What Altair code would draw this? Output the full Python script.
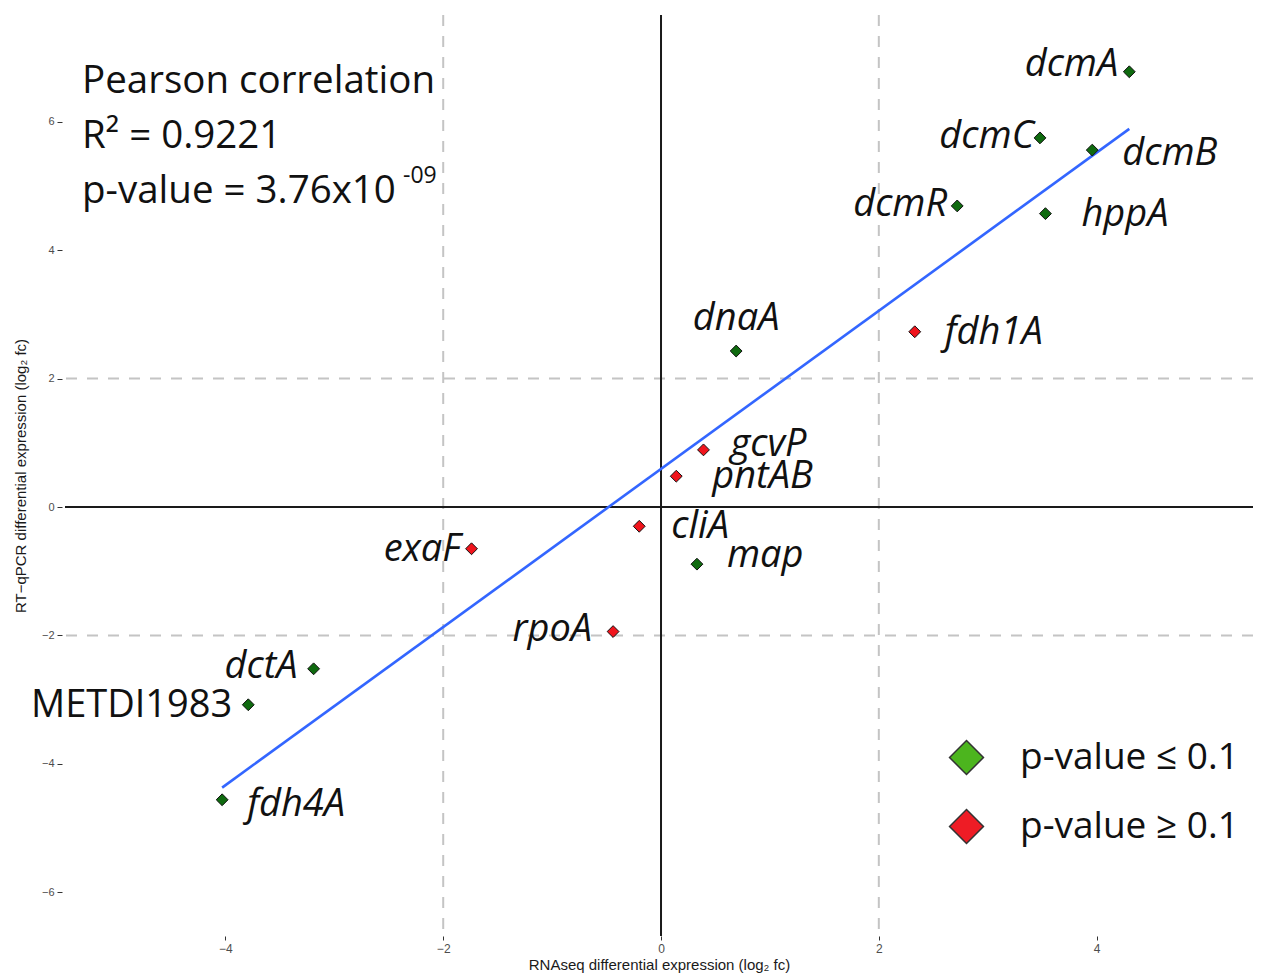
import altair as alt
import pandas as pd

# ---------------- data ----------------
GENES = ["dcmA", "dcmC", "dcmB", "dcmR", "hppA", "fdh1A", "dnaA", "gcvP",
         "pntAB", "cliA", "map", "exaF", "rpoA", "dctA", "METDI1983", "fdh4A"]
RNASEQ = [4.30, 3.48, 3.96, 2.72, 3.53, 2.33, 0.69, 0.39,
          0.14, -0.20, 0.33, -1.74, -0.44, -3.19, -3.79, -4.03]
QPCR = [6.78, 5.75, 5.56, 4.69, 4.57, 2.73, 2.43, 0.89,
        0.48, -0.30, -0.89, -0.65, -1.94, -2.52, -3.08, -4.56]
LEGEND_LABELS = ["p-value ≤ 0.1", "p-value ≥ 0.1"]
SIGNIF = [0, 0, 0, 0, 0, 1, 0, 1, 1, 1, 0, 1, 1, 0, 0, 0]  # index into LEGEND_LABELS
X_TICKS = [-4, -2, 0, 2, 4]
Y_TICKS = [-6, -4, -2, 0, 2, 4, 6]
GRID_VALUES = [-2, 2]
ZERO_VALUES = [0]
STATS_LINES = ["Pearson correlation", "R² = 0.9221", "p-value = 3.76x10"]
STATS_EXP = "-09"
X_TITLE = "RNAseq differential expression (log₂ fc)"
Y_TITLE = "RT−qPCR differential expression (log₂ fc)"

# ---------------- styling / placement ----------------
PT_COLORS = ["#0f6a0f", "#f0141c"]
LEGEND_FILL = ["#4cb51e", "#ee1c25"]
FONT = "Open Sans"
AXIS_FONT = "Liberation Sans"

# label placement relative to each point: (align, dx px, dy px, italic)
PLACE = {
    "dcmA": ("right", -11, 4, True),
    "dcmC": ("right", -6, 10, True),
    "dcmB": ("left", 30, 15, True),
    "dcmR": ("right", -10, 10, True),
    "hppA": ("left", 36, 12, True),
    "fdh1A": ("left", 30, 12, True),
    "dnaA": ("center", 0, -21, True),
    "gcvP": ("left", 27, 6, True),
    "pntAB": ("left", 36, 12, True),
    "cliA": ("left", 32, 12, True),
    "map": ("left", 30, 3, True),
    "exaF": ("right", -11, 12, True),
    "rpoA": ("right", -21, 9, True),
    "dctA": ("right", -16, 9, True),
    "METDI1983": ("right", -16, 12, False),
    "fdh4A": ("left", 25, 16, True),
}

df = pd.DataFrame({
    "gene": GENES,
    "rnaseq": RNASEQ,
    "qpcr": QPCR,
    "sig": [LEGEND_LABELS[i] for i in SIGNIF],
})

W, H = 1188, 921
xs = alt.Scale(domain=[-5.473, 5.436], nice=False, zero=False)
ys = alt.Scale(domain=[-6.682, 7.664], nice=False, zero=False)

xaxis = alt.Axis(values=X_TICKS, title=X_TITLE, grid=False, domain=False,
                 tickSize=4, tickColor="#333333", tickWidth=1,
                 labelFont=AXIS_FONT, labelFontSize=12, labelColor="#4d4d4d",
                 labelPadding=3, titleFont=AXIS_FONT, titleFontSize=15,
                 titleFontWeight="normal", titleColor="#1a1a1a", titlePadding=3,
                 format="d")
yaxis = alt.Axis(values=Y_TICKS, title=Y_TITLE, grid=False, domain=False,
                 tickSize=5, tickColor="#333333", tickWidth=1, offset=3,
                 labelFont=AXIS_FONT, labelFontSize=11, labelColor="#4d4d4d",
                 labelPadding=3, titleFont=AXIS_FONT, titleFontSize=15,
                 titleFontWeight="normal", titleColor="#1a1a1a", titlePadding=13,
                 format="d")


def X(field):
    return alt.X(field, type="quantitative", scale=xs, axis=xaxis)


def Y(field):
    return alt.Y(field, type="quantitative", scale=ys, axis=yaxis)


grid_df = pd.DataFrame({"v": GRID_VALUES})
zero_df = pd.DataFrame({"v": ZERO_VALUES})

grid_x = alt.Chart(grid_df).mark_rule(color="#c4c4c4", strokeWidth=2, strokeDash=[11, 10]).encode(x=X("v"))
grid_y = alt.Chart(grid_df).mark_rule(color="#c4c4c4", strokeWidth=2, strokeDash=[11, 10]).encode(y=Y("v"))
zero_x = alt.Chart(zero_df).mark_rule(color="#1a1a1a", strokeWidth=2).encode(x=X("v"))
zero_y = alt.Chart(zero_df).mark_rule(color="#1a1a1a", strokeWidth=2).encode(y=Y("v"))

base = alt.Chart(df)

reg = base.transform_regression("rnaseq", "qpcr").mark_line(
    color="#3366ff", strokeWidth=2.6).encode(x=X("rnaseq"), y=Y("qpcr"))

points = base.mark_point(shape="diamond", filled=True, size=140, stroke="#111111",
                         strokeWidth=1, opacity=1).encode(
    x=X("rnaseq"), y=Y("qpcr"),
    color=alt.Color("sig:N", scale=alt.Scale(domain=LEGEND_LABELS, range=PT_COLORS),
                    legend=None),
)

# invisible layer carrying the legend (its swatches are brighter than the points)
legend_layer = base.mark_point(shape="diamond", filled=True, opacity=0).encode(
    x=X("rnaseq"), y=Y("qpcr"),
    fill=alt.Fill("sig:N",
                  scale=alt.Scale(domain=LEGEND_LABELS, range=LEGEND_FILL),
                  legend=alt.Legend(
                      orient="none", legendX=883, legendY=724, title=None,
                      symbolType="diamond", symbolSize=1150, symbolOpacity=1,
                      symbolStrokeColor="#333333", symbolStrokeWidth=1.5,
                      labelFont=FONT, labelFontSize=37, labelColor="#111111",
                      labelOffset=35, rowPadding=28, labelLimit=400,
                  )),
)

label_layers = []
for g in GENES:
    align, dx, dy, italic = PLACE[g]
    kw = dict(align=align, baseline="alphabetic", font=FONT, fontSize=38,
              color="#111111", dx=dx, dy=dy)
    if italic:
        kw["fontStyle"] = "italic"
    label_layers.append(
        base.transform_filter(alt.datum.gene == g).mark_text(**kw).encode(
            x=X("rnaseq"), y=Y("qpcr"), text="gene:N",
        )
    )

STATS_POS = [(17, 78), (17, 133), (17, 188)]
stats_layers = []
for line, (px, py) in zip(STATS_LINES, STATS_POS):
    stats_layers.append(
        alt.Chart(pd.DataFrame({"t": [line]})).mark_text(
            align="left", baseline="alphabetic", font=FONT, fontSize=38.5,
            color="#111111").encode(x=alt.value(px), y=alt.value(py), text="t:N")
    )
stats_layers.append(
    alt.Chart(pd.DataFrame({"t": [STATS_EXP]})).mark_text(
        align="left", baseline="alphabetic", font=FONT, fontSize=23,
        color="#111111").encode(x=alt.value(338), y=alt.value(168), text="t:N")
)

chart = alt.layer(
    grid_x, grid_y, zero_x, zero_y, reg, legend_layer, points, *label_layers, *stats_layers
).properties(
    width=W, height=H,
    background="white",
    autosize=alt.AutoSizeParams(type="none"),
    padding={"left": 57, "top": 7, "right": 0, "bottom": 42},
).configure_view(stroke=None)

chart.save("out.html", embed_options={"renderer": "svg", "actions": False})
